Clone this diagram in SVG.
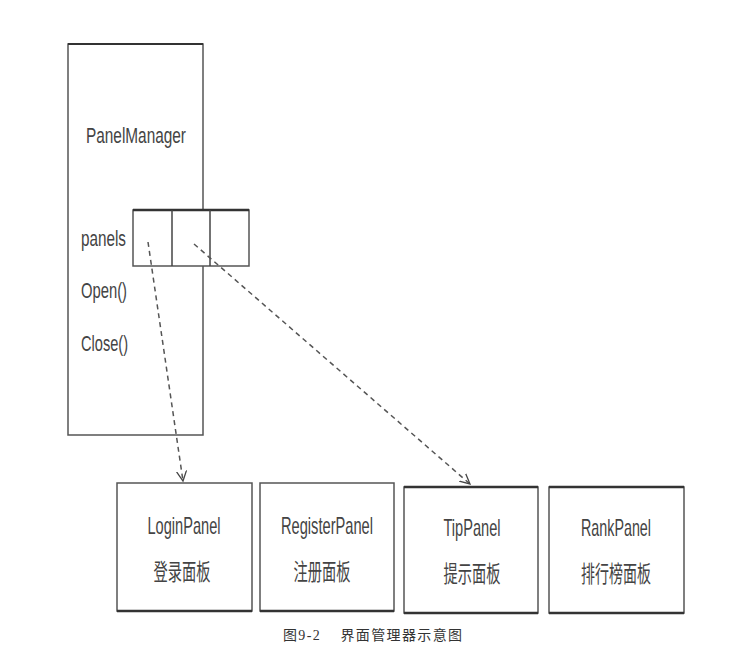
<svg xmlns="http://www.w3.org/2000/svg" width="740" height="666" viewBox="0 0 740 666">
<style>
.box{fill:#fff;stroke:#555;stroke-width:1.5}
.lbl{font-family:"Liberation Sans","Noto Sans CJK SC",sans-serif;font-size:22px;fill:#444}
.blbl{font-family:"Liberation Sans","Noto Sans CJK SC",sans-serif;font-size:24px;fill:#444}
.cn{font-family:"Noto Sans CJK SC",sans-serif;font-size:23px;fill:#444}
.dash{fill:none;stroke:#555;stroke-width:1.5;stroke-dasharray:5,4}
.cap{font-family:"Liberation Serif","Noto Sans CJK SC",serif;font-size:14px;fill:#333}
</style>
<defs>
<marker id="arr" markerWidth="12" markerHeight="12" refX="10" refY="6" orient="auto" markerUnits="userSpaceOnUse">
<path d="M0,1 L10,6 L0,11" fill="none" stroke="#444" stroke-width="1.3"/>
</marker>
</defs>
<rect width="740" height="666" fill="#fff"/>
<g id="PanelManager">
<rect class="box" x="68" y="44" width="135" height="391"/>
<line x1="68" y1="44" x2="203" y2="44" stroke="#333" stroke-width="2"/>
<text class="lbl" x="86" y="143" textLength="100" lengthAdjust="spacingAndGlyphs">PanelManager</text>
<text class="lbl" x="81" y="246" textLength="45" lengthAdjust="spacingAndGlyphs">panels</text>
<text class="lbl" x="81" y="298" textLength="46" lengthAdjust="spacingAndGlyphs">Open()</text>
<text class="lbl" x="81" y="351" textLength="47" lengthAdjust="spacingAndGlyphs">Close()</text>
</g>
<g id="panelsArray">
<rect class="box" x="133" y="210" width="116" height="56"/>
<line x1="133" y1="210" x2="249" y2="210" stroke="#333" stroke-width="2.5"/>
<line x1="172" y1="210" x2="172" y2="266" stroke="#444" stroke-width="1.5"/>
<line x1="210" y1="210" x2="210" y2="266" stroke="#444" stroke-width="1.5"/>
</g>
<g id="connectors">
<line class="dash" x1="148" y1="242" x2="183" y2="481" marker-end="url(#arr)"/>
<line class="dash" x1="194" y1="244" x2="470" y2="484" marker-end="url(#arr)"/>
</g>
<g id="LoginPanel">
<rect class="box" x="117" y="483" width="135" height="128"/>
<line x1="117" y1="611" x2="252" y2="611" stroke="#333" stroke-width="2.5"/>
<text class="blbl" x="184" y="534" text-anchor="middle" textLength="73" lengthAdjust="spacingAndGlyphs">LoginPanel</text>
<text class="cn" x="182" y="580" text-anchor="middle" textLength="57" lengthAdjust="spacingAndGlyphs">登录面板</text>
</g>
<g id="RegisterPanel">
<rect class="box" x="260" y="483" width="134" height="128"/>
<line x1="260" y1="611" x2="394" y2="611" stroke="#333" stroke-width="2.5"/>
<text class="blbl" x="327" y="534" text-anchor="middle" textLength="92" lengthAdjust="spacingAndGlyphs">RegisterPanel</text>
<text class="cn" x="322" y="580" text-anchor="middle" textLength="57" lengthAdjust="spacingAndGlyphs">注册面板</text>
</g>
<g id="TipPanel">
<rect class="box" x="404" y="487" width="134" height="126"/>
<line x1="404" y1="487" x2="538" y2="487" stroke="#333" stroke-width="2.5"/>
<line x1="404" y1="613" x2="538" y2="613" stroke="#333" stroke-width="2.5"/>
<text class="blbl" x="472" y="536" text-anchor="middle" textLength="57" lengthAdjust="spacingAndGlyphs">TipPanel</text>
<text class="cn" x="472" y="582" text-anchor="middle" textLength="57" lengthAdjust="spacingAndGlyphs">提示面板</text>
</g>
<g id="RankPanel">
<rect class="box" x="549" y="487" width="135" height="126"/>
<line x1="549" y1="487" x2="684" y2="487" stroke="#333" stroke-width="2.5"/>
<line x1="549" y1="613" x2="684" y2="613" stroke="#333" stroke-width="2.5"/>
<text class="blbl" x="616" y="536" text-anchor="middle" textLength="70" lengthAdjust="spacingAndGlyphs">RankPanel</text>
<text class="cn" x="616" y="582" text-anchor="middle" textLength="70" lengthAdjust="spacingAndGlyphs">排行榜面板</text>
</g>
<text class="cap" x="283" y="640" textLength="179" lengthAdjust="spacing" xml:space="preserve">图9-2    界面管理器示意图</text>
</svg>
